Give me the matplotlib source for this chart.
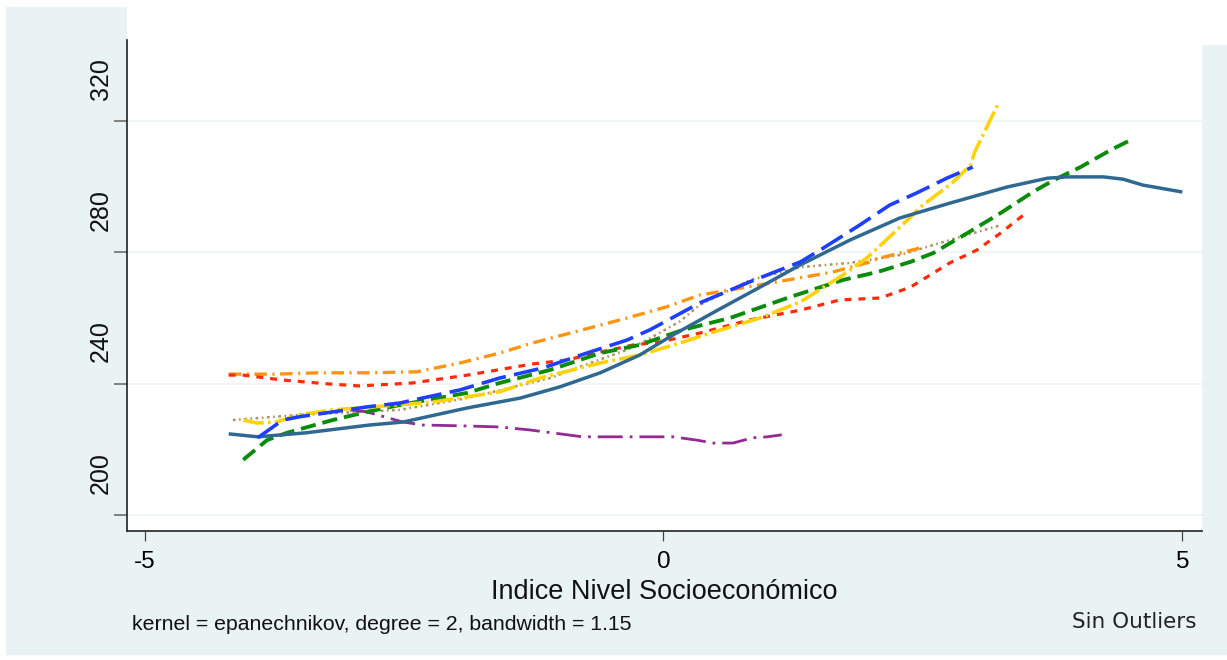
import matplotlib
matplotlib.use("Agg")
import matplotlib.pyplot as plt
import matplotlib.transforms as mtrans
import matplotlib.font_manager as fm
from matplotlib.patches import Rectangle

plt.rcParams['lines.scale_dashes'] = False

# Curves (x = socioeconomic index, y = score)
steel_x = [-4.19, -3.91, -3.45, -2.83, -2.51, -1.89, -1.38, -1.00, -0.61, -0.23, 0.09, 0.54, 0.93, 1.32,
           1.80, 2.28, 2.76, 3.31, 3.70, 3.89, 4.24, 4.43, 4.62, 5.00]
steel_y = [224.7, 223.8, 225.0, 227.4, 228.3, 232.6, 235.6, 239.0, 243.3, 248.7, 254.8, 262.7, 269.4, 276.2,
           283.8, 290.5, 295.0, 299.9, 302.6, 303.0, 303.0, 302.3, 300.5, 298.4]

blue_x = [-3.91, -3.67, -3.51, -2.86, -2.54, -1.96, -1.58, -1.16, -0.74, -0.35, -0.13, 0.35, 0.83, 1.32,
          1.54, 1.89, 2.18, 2.44, 2.73, 2.98]
blue_y = [223.5, 228.9, 229.9, 232.9, 234.1, 238.1, 241.7, 244.8, 249.3, 253.3, 256.4, 264.6, 271.0, 277.1,
          281.3, 288.3, 294.4, 298.1, 302.6, 306.0]

yellow_x = [-4.05, -3.92, -3.73, -3.51, -3.19, -2.93, -2.22, -1.58, -1.19, -0.61, -0.23, 0.16, 0.45, 0.93,
            1.32, 1.73, 1.96, 2.28, 2.50, 2.78, 2.96, 3.00, 3.22]
yellow_y = [228.9, 228.0, 228.3, 230.5, 232.0, 232.6, 234.4, 237.5, 241.7, 246.3, 248.7, 252.4, 255.4, 260.0,
            264.9, 273.1, 278.3, 287.7, 294.4, 301.1, 306.6, 310.6, 324.9]

green_x = [-4.05, -3.82, -3.63, -3.19, -2.86, -2.54, -1.89, -1.58, -1.09, -0.61, -0.23, 0.19, 0.64, 1.22,
           1.73, 2.06, 2.38, 2.60, 2.93, 3.25, 3.56, 3.76, 4.02, 4.31, 4.50]
green_y = [216.8, 222.8, 225.0, 228.9, 231.4, 233.5, 237.2, 240.2, 244.2, 249.3, 251.8, 256.4, 260.0, 266.4,
           271.6, 274.0, 277.1, 279.8, 285.9, 292.0, 298.4, 302.0, 306.0, 311.2, 314.2]

red_x = [-4.19, -4.05, -3.67, -3.22, -2.93, -2.42, -1.89, -1.26, -0.93, -0.61, -0.29, -0.03, 0.35, 0.83,
         1.32, 1.70, 2.09, 2.38, 2.76, 3.02, 3.25, 3.47]
red_y = [242.6, 242.6, 241.1, 239.9, 239.3, 240.2, 242.6, 246.0, 247.2, 249.6, 251.8, 252.7, 255.4, 259.4,
         262.4, 265.5, 266.1, 269.4, 276.8, 280.7, 285.9, 291.4]

orange_x = [-4.19, -3.73, -3.34, -2.86, -2.38, -1.96, -1.58, -1.26, -0.78, -0.35, 0.03, 0.35, 0.93, 1.63,
            1.96, 2.09, 2.47]
orange_y = [242.9, 242.9, 243.3, 243.3, 243.6, 246.3, 249.3, 252.4, 256.4, 260.0, 263.4, 267.0, 270.1, 274.0,
            276.8, 278.3, 281.3]

tan_x = [-4.15, -3.51, -2.54, -1.89, -1.09, -0.81, -0.35, -0.16, 0.16, 0.35, 0.83, 1.32, 1.80, 2.28,
         2.67, 2.86, 3.25]
tan_y = [228.9, 230.5, 232.0, 235.6, 241.7, 245.1, 250.3, 253.3, 259.0, 264.0, 271.5, 275.5, 276.8, 279.2,
         282.9, 284.7, 288.3]

purple_x = [-3.02, -2.86, -2.51, -2.32, -1.89, -1.58, -1.29, -1.07, -0.78, -0.29, 0.09, 0.32, 0.48, 0.67,
            0.86, 1.00, 1.14]
purple_y = [232.0, 231.4, 228.3, 227.4, 227.1, 226.8, 225.9, 225.0, 223.8, 223.8, 223.8, 222.8, 221.9, 221.9,
            223.5, 223.8, 224.4]

x_ticks = [-5, 0, 5]
y_ticks = [200, 240, 280, 320]

names = {f.name for f in fm.fontManager.ttflist}
narrow = 'Liberation Sans Narrow' if 'Liberation Sans Narrow' in names else 'Liberation Sans'

fig = plt.figure(figsize=(12.27, 6.6), dpi=100, facecolor='white')
W, H = 1227, 660

# light background panel behind everything (white notch at top right)
bg = fig.add_axes([0, 0, 1, 1], zorder=-5)
bg.axis('off')
bg.set_xlim(0, 1)
bg.set_ylim(0, 1)
bg.add_patch(Rectangle((6 / W, 5 / H), 1 - 6 / W, 1 - 12 / H, facecolor='#EAF3F3', edgecolor='none'))
bg.add_patch(Rectangle((1200 / W, 1 - 45 / H), 1, 1, facecolor='white', edgecolor='none'))

ax = fig.add_axes([127 / W, 1 - 531 / H, (1202 - 127) / W, 531 / H], zorder=1)
ax.set_facecolor('white')
ax.set_xlim(-5.17, 5.19)
ax.set_ylim(195.1, 356.9)

series = [
    (tan_x, tan_y, '#AE9461', 1.8, (0, (2, 2.5, 1.2, 2.5))),
    (orange_x, orange_y, '#FF9411', 2.4, (0, (9, 4, 1.5, 4))),
    (red_x, red_y, '#FF2B0A', 2.3, (0, (5, 5))),
    (purple_x, purple_y, '#942A92', 2.0, (0, (18, 5, 2, 5))),
    (green_x, green_y, '#0A8C0A', 2.8, (0, (11, 5))),
    (yellow_x, yellow_y, '#FFD20A', 2.6, (0, (15, 3, 2, 3))),
    (steel_x, steel_y, '#2F6890', 2.5, '-'),
    (blue_x, blue_y, '#1F3FFF', 2.6, (0, (18, 6))),
]
for xs, ys, col, lw, ls in series:
    ax.plot(xs, ys, color=col, lw=lw, ls=ls, solid_capstyle='butt', dash_capstyle='butt')

for v in y_ticks:
    ax.axhline(v, color='#EDF4F4', lw=1.2, zorder=0)

for s in ['top', 'right']:
    ax.spines[s].set_visible(False)
ax.spines['left'].set_bounds(195.1, 344.7)
ax.spines['left'].set_linewidth(1.2)
ax.spines['bottom'].set_linewidth(1.2)
ax.spines['left'].set_color('#222222')
ax.spines['bottom'].set_color('#222222')

ax.set_xticks(x_ticks)
ax.set_xticklabels(['-5', '0', '5'], fontsize=17.5, fontfamily='Liberation Sans')
ax.tick_params(axis='x', length=7.2, width=0.9, color='#444444', pad=7)
ax.set_yticks(y_ticks)
ax.set_yticklabels([])
ax.tick_params(axis='y', length=9.5, width=1.4, color='#808080')

# y tick labels sit above their ticks in the reference
blend = mtrans.blended_transform_factory(ax.transAxes, ax.transData)
ysize = 20 if narrow != 'Liberation Sans' else 18
for v in y_ticks:
    ax.text(-0.0242, v + 12.9, str(v), transform=blend, rotation=90, ha='center', va='center',
            fontsize=ysize, fontfamily=narrow, color='#111111', clip_on=False)

fig.text(664 / W, 1 - 592 / H, 'Indice Nivel Socioeconómico', ha='center', va='center',
         fontsize=19.5, fontfamily='Liberation Sans', color='#111111')
fig.text(132 / W, 1 - 625 / H, 'kernel = epanechnikov, degree = 2, bandwidth = 1.15', ha='left', va='center',
         fontsize=15.3, fontfamily='Liberation Sans', color='#111111')
fig.text(1196 / W, 1 - 622 / H, 'Sin Outliers', ha='right', va='center',
         fontsize=15.5, fontfamily='DejaVu Sans', color='#222222')

fig.savefig('out.png', dpi=100, facecolor='white')
